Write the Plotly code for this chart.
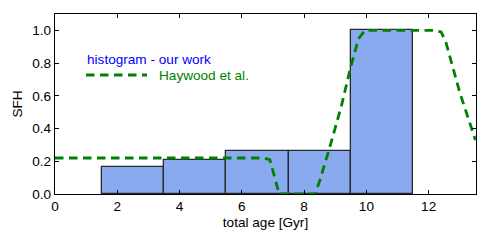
import plotly.graph_objects as go

# Histogram (bin edges and heights)
bin_left = [1.5, 3.5, 5.5, 7.5, 9.5]
bin_width = [2.0, 2.0, 2.0, 2.0, 2.0]
sfh_hist = [0.165, 0.21, 0.26, 0.26, 1.0]

# Haywood et al. curve
hay_age = [0.0, 6.7, 6.9, 7.05, 7.2, 8.35, 8.5, 8.8, 9.2, 9.5, 9.75, 9.95, 12.2, 12.4, 12.55, 13.0, 13.5]
hay_sfh = [0.22, 0.22, 0.21, 0.11, 0.0, 0.0, 0.08, 0.27, 0.54, 0.78, 0.95, 1.0, 1.0, 0.99, 0.93, 0.62, 0.33]

x_ticks = [0, 2, 4, 6, 8, 10, 12]
y_ticks = [0.0, 0.2, 0.4, 0.6, 0.8, 1.0]

FS = 13.6
DASH = "8.5px,5.5px"
fig = go.Figure()
fig.add_trace(go.Bar(
    x=bin_left, y=sfh_hist, width=bin_width, offset=0,
    marker=dict(color="#89aaee", line=dict(color="#2a2a2a", width=1.3)),
    showlegend=False,
))
fig.add_trace(go.Scatter(
    x=hay_age, y=hay_sfh, mode="lines",
    line=dict(color="#008000", width=2.8, dash=DASH),
    showlegend=False,
))

font = dict(family="Liberation Sans, Arial, sans-serif", size=FS, color="black")
axis_common = dict(
    showgrid=False, zeroline=False, showline=True, linecolor="black", linewidth=1.3,
    mirror="ticks", ticks="inside", ticklen=4, tickcolor="black", tickwidth=1,
    tickfont=dict(size=FS, color="black"), automargin=False,
)
fig.update_layout(
    width=491, height=245,
    margin=dict(l=55, r=15, t=14, b=51),
    plot_bgcolor="white", paper_bgcolor="white",
    font=font,
    bargap=0,
    xaxis=dict(range=[0, 13.52], tickvals=x_ticks,
               title=dict(text="total age [Gyr]", font=dict(size=FS), standoff=4),
               **axis_common),
    yaxis=dict(range=[0, 1.1], tickvals=y_ticks, tickformat=".1f",
               title=dict(text="SFH", font=dict(size=FS), standoff=6),
               **axis_common),
    annotations=[
        dict(text="histogram - our work", xref="paper", yref="paper",
             x=(85 - 55) / 421, y=(194 - 59) / 180, xanchor="left", yanchor="middle",
             showarrow=False, font=dict(size=FS, color="blue")),
        dict(text="Haywood et al.", xref="paper", yref="paper",
             x=(157 - 55) / 421, y=(194 - 75) / 180, xanchor="left", yanchor="middle",
             showarrow=False, font=dict(size=FS, color="#008000")),
    ],
    shapes=[
        dict(type="line", xref="paper", yref="paper",
             x0=(86 - 55) / 421, x1=(147 - 55) / 421,
             y0=(194 - 75) / 180, y1=(194 - 75) / 180,
             line=dict(color="#008000", width=2.8, dash=DASH)),
    ],
)

fig.write_html("out.html", config={"displayModeBar": False},
               post_script="document.body.style.margin='0';")
